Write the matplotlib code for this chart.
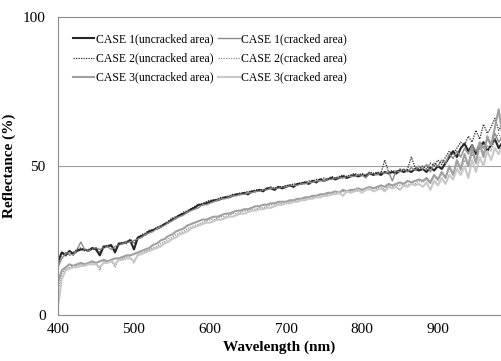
import matplotlib
matplotlib.use('Agg')
import matplotlib.pyplot as plt
import numpy as np

plt.rcParams['font.family'] = ['Liberation Serif', 'DejaVu Serif']

# wavelength grid (nm), 5 nm steps
wl = np.arange(400, 986, 5)

c1_uncracked = [
    18, 21, 20, 21.5, 20.5, 21.5, 22, 22, 21.5, 22.5, 22, 20,
    23, 23, 23.5, 21, 24, 24, 24.5, 25, 22, 26, 26.5, 27,
    28, 28.5, 29, 29.5, 30.5, 31, 32, 32.5, 33.5, 34, 34.5, 35.5,
    36, 37, 37, 37.5, 38, 38.5, 38.5, 39, 39.5, 39.5, 40, 40.5,
    40.5, 41, 40.5, 41.5, 41.5, 42, 41.5, 42.5, 42.5, 42, 43, 42.5,
    43, 43.5, 43, 44, 44, 44.5, 44, 45, 44.5, 45.5, 45, 45.5,
    46, 45.5, 46, 46.5, 46, 46.5, 47, 46.5, 47, 46.5, 47.5, 47,
    47.5, 47, 48, 47.5, 48, 47.5, 48.5, 48, 48.5, 48, 49, 48.5,
    49, 48, 49.5, 48.5, 50, 49, 51, 53, 55, 53, 56, 57.5,
    55, 57, 54, 56.5, 58, 55, 57, 59, 56, 58,
]
c1_cracked = [
    16, 19, 20.5, 21, 20, 22, 24.5, 22, 21.5, 22, 22.5, 22,
    22.5, 23, 22, 23, 23.5, 24, 24.5, 24.5, 25, 25.5, 26, 27,
    27.5, 28, 29, 29.5, 30, 31, 31.5, 32.5, 33, 33.5, 34.5, 35,
    35.5, 36, 37, 37, 37.5, 38, 38.5, 39, 39, 39.5, 40, 40,
    40.5, 40.5, 41, 41, 41.5, 41.5, 42, 42, 42.5, 42.5, 42.5, 43,
    43, 43.5, 43.5, 43.5, 44, 44, 44.5, 44.5, 45, 45, 45, 45.5,
    45.5, 46, 46, 46, 46.5, 46.5, 46.5, 47, 47, 46, 47.5, 47.5,
    47, 48, 47.5, 48, 45, 48.5, 48, 49, 48, 49.5, 48.5, 50,
    49, 50.5, 48, 51, 50, 52, 51, 54, 52.5, 55, 53, 56,
    54, 57, 55, 58, 56, 59, 57, 61, 58, 60,
]
c2_uncracked = [
    17, 20.5, 21, 20, 21, 22, 22.5, 21.5, 22, 22, 22.5, 21,
    22.5, 23.5, 23, 22, 23.5, 24.5, 24, 25.5, 24, 26, 27, 27.5,
    28.5, 28.5, 29.5, 30, 30.5, 31.5, 32.5, 33, 33.5, 34.5, 35, 35.5,
    36.5, 37, 37.5, 38, 38.5, 38.5, 39, 39.5, 39.5, 40, 40.5, 40.5,
    41, 41, 41.5, 41.5, 42, 42, 42, 42.5, 43, 42.5, 43, 43,
    43.5, 43.5, 44, 44, 44.5, 44.5, 45, 45, 45.5, 45.5, 46, 45.5,
    46.5, 46, 46.5, 47, 46.5, 47, 47.5, 47, 47.5, 47, 48, 47.5,
    48, 47.5, 52, 48, 48.5, 48, 49, 48.5, 49, 53, 49.5, 49,
    50, 49, 51, 50, 52, 50.5, 53, 55, 54, 56, 58, 57,
    60, 58, 62, 59, 64, 61, 63, 66, 62, 64,
]
c2_cracked = [
    8, 14, 15.5, 16, 16.5, 16.5, 17, 17, 17.5, 17.5, 17.5, 15,
    18, 18, 18.5, 16, 19, 19, 19.5, 19.5, 17.5, 20.5, 21, 21.5,
    22, 22.5, 23, 24, 24.5, 25.5, 26, 27, 27.5, 28, 29, 29.5,
    30, 30.5, 31, 31.5, 32, 32, 32.5, 33, 33, 33.5, 34, 34,
    34.5, 35, 35, 35.5, 35.5, 36, 36, 36.5, 37, 37, 37.5, 37.5,
    37.5, 38, 38.5, 38.5, 39, 39, 39.5, 39.5, 40, 40, 40.5, 40.5,
    41, 40.5, 41, 41.5, 41, 41.5, 42, 41.5, 42, 42.5, 42, 42.5,
    42.5, 43, 42, 43.5, 43, 43.5, 43.5, 44, 43.5, 44.5, 44, 45,
    44.5, 45.5, 44, 46.5, 45, 47.5, 46, 49, 47, 51, 48.5, 52,
    50, 54, 51, 56, 53, 57, 55, 59, 61, 58,
]
c3_uncracked = [
    11, 15, 16, 17, 16.5, 17, 17.5, 17, 17.5, 18, 17.5, 18,
    18.5, 18, 18.5, 19, 19, 19.5, 20, 20, 20.5, 21, 21.5, 22,
    22.5, 23.5, 24, 25, 25.5, 26.5, 27, 28, 28.5, 29, 30, 30.5,
    31, 31.5, 32, 32, 32.5, 33, 33, 33.5, 34, 34, 34.5, 35,
    35, 35.5, 35.5, 36, 36.5, 36.5, 37, 37, 37.5, 37.5, 38, 38,
    38, 38.5, 38.5, 39, 39, 39.5, 39.5, 40, 40, 40.5, 40.5, 41,
    41, 41.5, 41, 42, 41.5, 42, 42, 42.5, 42, 42.5, 43, 42.5,
    43, 43.5, 43, 44, 43.5, 44, 44.5, 44, 45, 44.5, 45, 45.5,
    45, 46, 44.5, 47, 45.5, 48, 46, 50, 47, 52, 49, 54,
    50, 56, 51, 58, 53, 60, 57, 63, 69, 60,
]
c3_cracked = [
    3, 12, 15, 15.5, 16, 16, 16.5, 16.5, 17, 17, 17, 16,
    17.5, 17.5, 18, 17, 18.5, 18.5, 19, 19, 18, 20, 20.5, 21,
    21.5, 22, 22.5, 23, 24, 24.5, 25.5, 26, 27, 27.5, 28, 29,
    29.5, 30, 30.5, 31, 31, 31.5, 32, 32, 32.5, 33, 33, 33.5,
    34, 34, 34.5, 35, 35, 35.5, 35.5, 36, 36, 36.5, 37, 37,
    37.5, 37.5, 38, 38, 38.5, 38.5, 39, 39, 39.5, 39.5, 40, 40,
    40.5, 40.5, 41, 40, 41.5, 41, 41.5, 42, 41, 42, 42.5, 41.5,
    42, 42.5, 41.5, 43, 42.5, 43, 42, 43.5, 43, 44, 43.5, 44,
    43, 44.5, 42, 45, 43.5, 46, 44, 47, 45.5, 49, 47, 50,
    46, 52, 48, 53, 50, 55, 52, 56, 54, 57,
]

labels = ['CASE 1(uncracked area)', 'CASE 1(cracked area)',
          'CASE 2(uncracked area)', 'CASE 2(cracked area)',
          'CASE 3(uncracked area)', 'CASE 3(cracked area)']

series = [c1_uncracked, c1_cracked, c2_uncracked, c2_cracked, c3_uncracked, c3_cracked]
styles = [
    dict(color='#262626', lw=1.5, ls='-'),
    dict(color='#8c8c8c', lw=1.0, ls='-'),
    dict(color='#262626', lw=0.9, ls=(0, (1, 1))),
    dict(color='#8c8c8c', lw=0.9, ls=(0, (1, 1))),
    dict(color='#a0a0a0', lw=1.5, ls='-'),
    dict(color='#c8c8c8', lw=1.5, ls='-'),
]

fig = plt.figure(figsize=(5.01, 3.61), dpi=100)
ax = fig.add_axes([0.1158, 0.1274, 0.8842, 0.8255])

lines = []
for vals, lab, st in zip(series, labels, styles):
    lines += ax.plot(wl, vals, label=lab, **st)

ax.set_xlim(400, 983)
ax.set_ylim(0, 100)
ax.set_xticks([400, 500, 600, 700, 800, 900])
ax.set_yticks([0, 50, 100])
ax.tick_params(length=0, labelsize=11)
ax.tick_params(axis='y', pad=9)
ax.tick_params(axis='x', pad=6)
ax.axhline(50, color='#a0a0a0', lw=0.8, zorder=0)

for side in ['left', 'bottom', 'top']:
    ax.spines[side].set_color('#8c8c8c')
    ax.spines[side].set_linewidth(0.8)
ax.spines['right'].set_visible(False)

ax.set_xlabel('Wavelength (nm)', fontsize=11, fontweight='bold', labelpad=3)
ax.set_ylabel('Reflectance (%)', fontsize=11, fontweight='bold')
ax.yaxis.set_label_coords(-0.095, 0.5)

# legend filled row by row: ncol=2 fills columns first, so reorder
order = [0, 2, 4, 1, 3, 5]
ax.legend([lines[i] for i in order], [labels[i] for i in order],
          loc='upper left', bbox_to_anchor=(0.01, 0.98), ncol=2, frameon=False,
          fontsize=8.5, handlelength=1.8, handletextpad=0.1, columnspacing=0.45,
          labelspacing=0.6)

plt.savefig('out.png', dpi=100)
